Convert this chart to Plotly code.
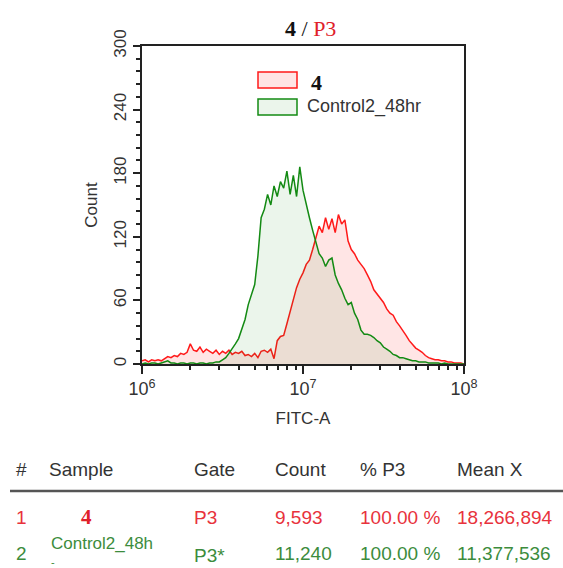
import plotly.graph_objects as go

# ---------------- data ----------------
# histogram bin centres, log10(FITC-A)
log_fitc = [6.00, 6.02, 6.04, 6.06, 6.08, 6.10, 6.12, 6.14, 6.16, 6.18,
            6.20, 6.22, 6.24, 6.26, 6.28, 6.30, 6.32, 6.34, 6.36, 6.38,
            6.40, 6.42, 6.44, 6.46, 6.48, 6.50, 6.52, 6.54, 6.56, 6.58,
            6.60, 6.62, 6.64, 6.66, 6.68, 6.70, 6.72, 6.74, 6.76, 6.78,
            6.80, 6.82, 6.84, 6.86, 6.88, 6.90, 6.92, 6.94, 6.96, 6.98,
            7.00, 7.02, 7.04, 7.06, 7.08, 7.10, 7.12, 7.14, 7.16, 7.18,
            7.20, 7.22, 7.24, 7.26, 7.28, 7.30, 7.32, 7.34, 7.36, 7.38,
            7.40, 7.42, 7.44, 7.46, 7.48, 7.50, 7.52, 7.54, 7.56, 7.58,
            7.60, 7.62, 7.64, 7.66, 7.68, 7.70, 7.72, 7.74, 7.76, 7.78,
            7.80, 7.82, 7.84, 7.86, 7.88, 7.90, 7.92, 7.94, 7.96, 7.98, 8.00]

counts_4 = [3, 4, 2, 4, 3, 4, 3, 5, 7, 6,
            8, 7, 10, 9, 11, 19, 13, 12, 16, 11,
            14, 12, 10, 13, 9, 12, 10, 13, 9, 11,
            10, 12, 8, 9, 7, 10, 6, 12, 13, 11,
            14, 5, 22, 26, 27, 38, 50, 62, 72, 80,
            86, 94, 98, 108, 118, 130, 124, 138, 127, 137,
            124, 141, 132, 136, 116, 108, 104, 98, 94, 90,
            84, 78, 70, 66, 62, 58, 52, 48, 46, 40,
            36, 32, 27, 22, 18, 15, 13, 11, 8, 6,
            5, 4, 4, 3, 3, 2, 2, 1, 1, 1, 0]

counts_ctrl = [0, 1, 0, 1, 1, 0, 1, 2, 3, 1,
               1, 0, 1, 1, 0, 1, 1, 0, 1, 1,
               0, 1, 1, 2, 2, 4, 6, 10, 14, 19,
               24, 33, 42, 56, 66, 75, 102, 138, 146, 160,
               150, 168, 158, 172, 166, 182, 160, 178, 158, 186,
               164, 150, 138, 126, 114, 104, 100, 92, 98, 100,
               84, 76, 70, 62, 56, 58, 48, 42, 32, 28,
               28, 27, 25, 22, 20, 16, 14, 12, 9, 8,
               6, 6, 5, 4, 3, 3, 2, 2, 2, 1,
               1, 1, 1, 0, 1, 0, 0, 0, 0, 0, 0]

series_names = ["4", "Control2_48hr"]

x_tick_vals = [1e6, 1e7, 1e8]
x_tick_text = ["10<sup>6</sup>", "10<sup>7</sup>", "10<sup>8</sup>"]
y_tick_vals = [0, 60, 120, 180, 240, 300]

table_header = ["#", "Sample", "Gate", "Count", "% P3", "Mean X"]
table_row1 = ["1", "4", "P3", "9,593", "100.00 %", "18,266,894"]
table_row2 = ["2", "Control2_48h", "P3*", "11,240", "100.00 %", "11,377,536"]

# ---------------- layout helpers ----------------
W, H = 563, 568
L, R, T, B = 142, 464, 46, 364   # plot area in pixels


def px(xp):
    return (xp - L) / (R - L)


def py(yp):
    return (B - yp) / (B - T)


RED = "#ff1a1a"
GREEN = "#138a13"
RED_TXT = "#e8323c"
GREEN_TXT = "#3c8c3c"
SANS = "Liberation Sans, Arial, sans-serif"
SERIF = "Liberation Serif, Times New Roman, serif"

xs = [10 ** v for v in log_fitc]

fig = go.Figure()
fig.add_trace(go.Scatter(
    x=xs, y=counts_4, mode="lines", name=series_names[0],
    line=dict(color=RED, width=1.5), fill="tozeroy",
    fillcolor="rgba(255,0,0,0.10)", showlegend=False))
fig.add_trace(go.Scatter(
    x=xs, y=counts_ctrl, mode="lines", name=series_names[1],
    line=dict(color=GREEN, width=1.5), fill="tozeroy",
    fillcolor="rgba(0,128,0,0.08)", showlegend=False))

minor_x = [d * 10 ** e for e in (6, 7) for d in range(2, 10)]

fig.update_layout(
    width=W, height=H,
    margin=dict(l=L, r=W - R, t=T, b=H - B, pad=0),
    paper_bgcolor="white", plot_bgcolor="white",
    font=dict(family=SANS, color="#333333"),
    xaxis=dict(
        type="log", range=[6, 8], tickvals=x_tick_vals, ticktext=x_tick_text,
        ticks="outside", ticklen=8, tickwidth=1.5, tickcolor="#222",
        showline=True, linecolor="#222", linewidth=1.5, mirror=True,
        showgrid=False, zeroline=False,
        tickfont=dict(size=18, family=SANS, color="#333"),
        minor=dict(ticks="outside", ticklen=4, tickcolor="#222",
                   tickvals=minor_x, showgrid=False),
        title=dict(text="FITC-A", font=dict(size=17, family=SANS, color="#333"),
                   standoff=14),
    ),
    yaxis=dict(
        range=[0, 300], tickvals=y_tick_vals, tickangle=-90,
        ticks="outside", ticklen=7, tickwidth=1.5, tickcolor="#222",
        showline=True, linecolor="#222", linewidth=1.5, mirror=True,
        showgrid=False, zeroline=False,
        tickfont=dict(size=17, family=SANS, color="#333"),
        minor=dict(ticks="outside", ticklen=4, tickcolor="#222", dtick=12,
                   showgrid=False),
        title=dict(text="Count", font=dict(size=17, family=SANS, color="#333"),
                   standoff=10),
    ),
)

ann = []
# chart title
ann.append(dict(x=px(310), y=py(28), xref="paper", yref="paper", showarrow=False,
                text="<b>4</b> / <span style='color:#e0202a'>P3</span>",
                font=dict(family=SERIF, size=22, color="#111"),
                xanchor="center", yanchor="middle"))

# custom legend
shapes = [
    dict(type="rect", xref="paper", yref="paper", x0=px(258), x1=px(297),
         y0=py(88), y1=py(72), line=dict(color=RED, width=1.5),
         fillcolor="rgba(255,0,0,0.10)"),
    dict(type="rect", xref="paper", yref="paper", x0=px(258), x1=px(297),
         y0=py(115), y1=py(99), line=dict(color=GREEN, width=1.5),
         fillcolor="rgba(0,128,0,0.08)"),
]
ann.append(dict(x=px(309), y=py(82), xref="paper", yref="paper", showarrow=False,
                text="<b>" + series_names[0] + "</b>", xanchor="left", yanchor="middle",
                font=dict(family=SERIF, size=22, color="#111")))
ann.append(dict(x=px(305), y=py(107), xref="paper", yref="paper", showarrow=False,
                text=series_names[1], xanchor="left", yanchor="middle",
                font=dict(family=SANS, size=18, color="#333")))

# table
col_x = [14, 47, 192, 273, 358, 455]
hdr_y, row1_y, row2_y = 469, 517, 553
for cx, t in zip(col_x, table_header):
    ann.append(dict(x=px(cx), y=py(hdr_y), xref="paper", yref="paper", showarrow=False,
                    text=t, xanchor="left", yanchor="middle",
                    font=dict(family=SANS, size=19, color="#333")))
for i, (cx, t) in enumerate(zip(col_x, table_row1)):
    if i == 1:
        ann.append(dict(x=px(86), y=py(row1_y), xref="paper", yref="paper", showarrow=False,
                        text="<b>" + t + "</b>", xanchor="center", yanchor="middle",
                        font=dict(family=SERIF, size=21, color="#e0202a")))
    else:
        ann.append(dict(x=px(cx), y=py(row1_y), xref="paper", yref="paper", showarrow=False,
                        text=t, xanchor="left", yanchor="middle",
                        font=dict(family=SANS, size=19, color=RED_TXT)))
for i, (cx, t) in enumerate(zip(col_x, table_row2)):
    if i == 1:
        ann.append(dict(x=px(cx + 2), y=py(543), xref="paper", yref="paper", showarrow=False,
                        text=t, xanchor="left", yanchor="middle",
                        font=dict(family=SANS, size=17, color=GREEN_TXT)))
        ann.append(dict(x=px(cx + 2), y=py(562), xref="paper", yref="paper", showarrow=False,
                        text="-", xanchor="left", yanchor="middle",
                        font=dict(family=SANS, size=11, color=GREEN_TXT)))
    else:
        yy = row2_y + (2 if i == 2 else 0)
        ann.append(dict(x=px(cx), y=py(yy), xref="paper", yref="paper", showarrow=False,
                        text=t, xanchor="left", yanchor="middle",
                        font=dict(family=SANS, size=19, color=GREEN_TXT)))

shapes.append(dict(type="line", xref="paper", yref="paper", x0=px(10), x1=px(563),
                   y0=py(491), y1=py(491), line=dict(color="#555", width=2.5)))

fig.update_layout(annotations=ann, shapes=shapes)

fig.write_html("out.html", config={"displayModeBar": False},
               post_script="document.body.style.margin='0';")
